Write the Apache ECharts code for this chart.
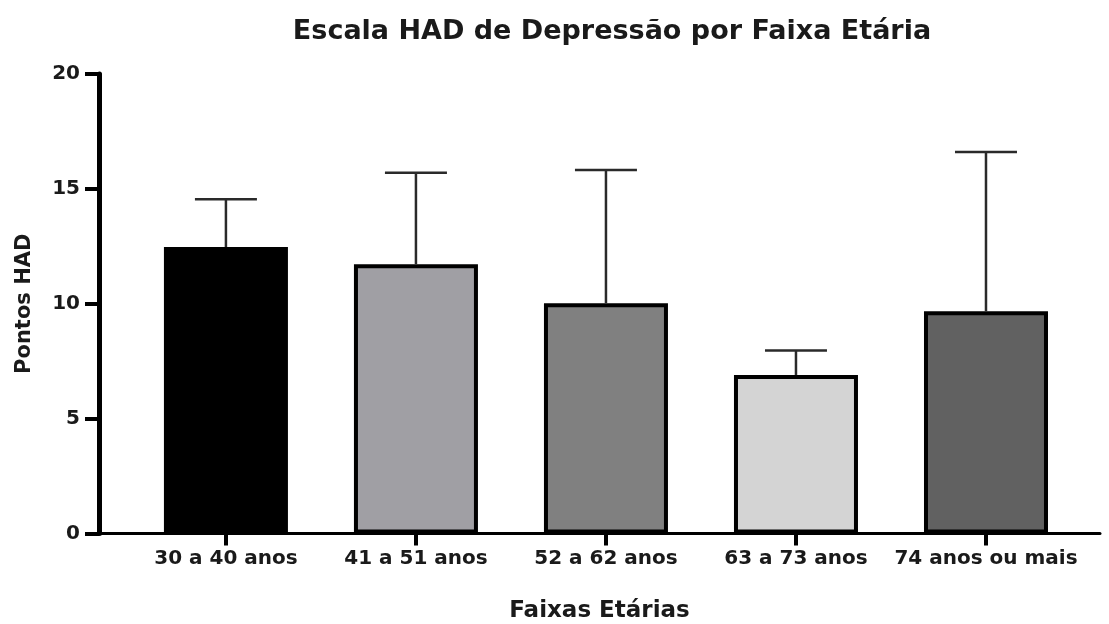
<!DOCTYPE html>
<html>
<head>
<meta charset="utf-8">
<script src="https://cdn.jsdelivr.net/npm/echarts@6/dist/echarts.min.js"></script>
<style>
  html, body { margin: 0; padding: 0; background: #fff; }
  #chart { width: 1109px; height: 624px; }
</style>
</head>
<body>
<div id="chart"></div>
<script>
// dados
const categories = ['30 a 40 anos', '41 a 51 anos', '52 a 62 anos', '63 a 73 anos', '74 anos ou mais']
const means = [12.47, 11.72, 10.02, 6.9, 9.67]
const upperErr = [14.55, 15.7, 15.82, 7.97, 16.6]
const barColors = ['#000000', '#a09fa4', '#808080', '#d4d4d4', '#616161']
const yTicks = [0, 5, 10, 15, 20]

const FONT = 'DejaVu Sans'
const positions = categories.map((c, i) => i)

const chart = echarts.init(document.getElementById('chart'))

const option = {
  backgroundColor: '#fff',
  animation: false,
  title: {
    text: 'Escala HAD de Depressão por Faixa Etária',
    left: 607,
    top: 13,
    textAlign: 'center',
    textStyle: { fontFamily: FONT, fontSize: 27, fontWeight: 'bold', color: '#1a1a1a' }
  },
  grid: { left: 99, right: 9, top: 74, bottom: 90.5, outerBoundsMode: 'none' },
  xAxis: {
    type: 'value',
    min: -0.668,
    max: 4.6,
    name: 'Faixas Etárias',
    nameLocation: 'middle',
    nameGap: 66,
    nameTextStyle: { fontFamily: FONT, fontSize: 23, fontWeight: 'bold', color: '#1a1a1a' },
    splitLine: { show: false },
    axisLine: { show: true, lineStyle: { color: '#000', width: 3 } },
    axisTick: { show: true, length: 12, customValues: positions, lineStyle: { color: '#000', width: 4 } },
    axisLabel: {
      customValues: positions,
      margin: 15,
      formatter: (v) => categories[Math.round(v)],
      fontFamily: FONT, fontSize: 20, fontWeight: 'bold', color: '#1a1a1a'
    }
  },
  yAxis: {
    type: 'value',
    min: 0,
    max: 20,
    interval: 5,
    name: 'Pontos HAD',
    nameLocation: 'middle',
    nameGap: 64,
    nameTextStyle: { fontFamily: FONT, fontSize: 21, fontWeight: 'bold', color: '#1a1a1a' },
    splitLine: { show: false },
    axisLine: { show: true, onZero: false, lineStyle: { color: '#000', width: 5 } },
    axisTick: { show: true, length: 14, lineStyle: { color: '#000', width: 4 } },
    axisLabel: {
      margin: 19,
      formatter: (v) => yTicks.includes(v) ? String(v) : '',
      fontFamily: FONT, fontSize: 20, fontWeight: 'bold', color: '#1a1a1a'
    }
  },
  series: [
    {
      type: 'bar',
      barWidth: 124,
      data: means.map((m, i) => ({
        value: [i, m],
        itemStyle: { color: barColors[i], borderColor: '#000', borderWidth: 4 }
      })),
      z: 2
    },
    {
      type: 'custom',
      z: 3,
      data: means.map((m, i) => [i, m, upperErr[i]]),
      renderItem: (params, api) => {
        const base = api.coord([api.value(0), api.value(1)])
        const top = api.coord([api.value(0), api.value(2)])
        const half = 31
        const style = { stroke: '#2a2a2a', lineWidth: 2.5 }
        return {
          type: 'group',
          children: [
            { type: 'line', shape: { x1: top[0], y1: base[1], x2: top[0], y2: top[1] }, style },
            { type: 'line', shape: { x1: top[0] - half, y1: top[1], x2: top[0] + half, y2: top[1] }, style }
          ]
        }
      }
    }
  ]
}

chart.setOption(option)
</script>
</body>
</html>
